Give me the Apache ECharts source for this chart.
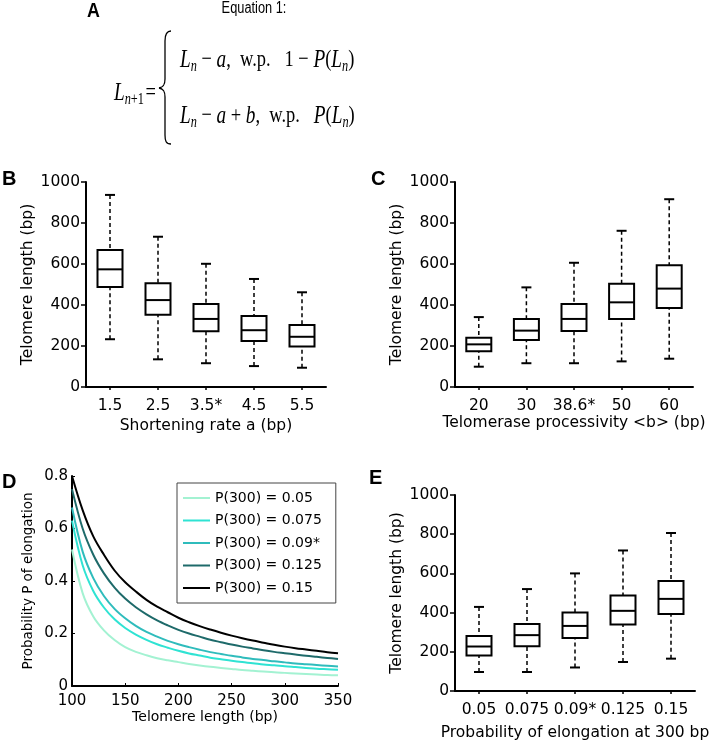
<!DOCTYPE html>
<html>
<head>
<meta charset="utf-8">
<script src="https://cdn.jsdelivr.net/npm/echarts@6/dist/echarts.min.js"></script>
<style>
  html, body { margin: 0; padding: 0; background: #fff; }
  #chart { width: 712px; height: 746px; }
</style>
</head>
<body>
<div id="chart"></div>
<script>
// B: shortening rate a (bp) -> [min, Q1, median, Q3, max]
const shorteningRates = ['1.5', '2.5', '3.5*', '4.5', '5.5']
const shorteningBoxes = [
  [233, 488, 574, 668, 937],
  [135, 353, 424, 506, 733],
  [116, 272, 332, 405, 601],
  [102, 224, 277, 346, 527],
  [94, 197, 245, 302, 462]
]

// C: telomerase processivity <b> (bp)
const processivity = ['20', '30', '38.6*', '50', '60']
const processivityBoxes = [
  [99, 174, 208, 240, 341],
  [116, 229, 275, 332, 486],
  [116, 273, 332, 405, 606],
  [125, 332, 413, 504, 762],
  [138, 385, 480, 594, 916]
]

// E: probability of elongation at 300 bp
const elongProb = ['0.05', '0.075', '0.09*', '0.125', '0.15']
const elongBoxes = [
  [97, 181, 227, 280, 429],
  [97, 228, 285, 342, 520],
  [120, 271, 332, 401, 600],
  [148, 339, 409, 487, 717],
  [165, 393, 470, 561, 806]
]

// D: probability P of elongation vs telomere length (every 10 bp)
const telomereLengths = [100, 110, 120, 130, 140, 150, 160, 170, 180, 190, 200, 210, 220, 230, 240, 250, 260, 270, 280, 290, 300, 310, 320, 330, 340, 350]
const p005 = [0.52, 0.354, 0.265, 0.212, 0.175, 0.148, 0.130, 0.117, 0.106, 0.098, 0.091, 0.084, 0.078, 0.073, 0.069, 0.065, 0.061, 0.058, 0.055, 0.052, 0.050, 0.048, 0.046, 0.044, 0.042, 0.041]
const p0075 = [0.63, 0.460, 0.362, 0.299, 0.254, 0.221, 0.196, 0.176, 0.159, 0.146, 0.134, 0.124, 0.116, 0.108, 0.102, 0.096, 0.091, 0.087, 0.082, 0.079, 0.075, 0.072, 0.069, 0.066, 0.064, 0.062]
const p009 = [0.68, 0.512, 0.411, 0.343, 0.294, 0.258, 0.229, 0.206, 0.188, 0.172, 0.159, 0.148, 0.138, 0.129, 0.122, 0.115, 0.109, 0.103, 0.099, 0.094, 0.090, 0.086, 0.083, 0.080, 0.077, 0.074]
const p0125 = [0.75, 0.600, 0.500, 0.429, 0.375, 0.333, 0.300, 0.273, 0.250, 0.231, 0.214, 0.200, 0.188, 0.176, 0.167, 0.158, 0.150, 0.143, 0.136, 0.130, 0.125, 0.120, 0.115, 0.111, 0.107, 0.103]
const p015 = [0.80, 0.670, 0.570, 0.500, 0.440, 0.395, 0.360, 0.328, 0.302, 0.281, 0.260, 0.243, 0.228, 0.215, 0.203, 0.192, 0.182, 0.173, 0.165, 0.157, 0.150, 0.144, 0.139, 0.134, 0.129, 0.125]

const curveNames = ['P(300) = 0.05', 'P(300) = 0.075', 'P(300) = 0.09*', 'P(300) = 0.125', 'P(300) = 0.15']
const curveColors = ['#a3f2d2', '#2fe3d3', '#2fbcbc', '#1e6a6a', '#000000']

const SANS = 'DejaVu Sans'
const SERIF = 'Liberation Serif'

const chart = echarts.init(document.getElementById('chart'))

// 箱线图：实线箱体，虚线须
const renderBox = (params, api) => {
  const idx = api.value(0)
  const pMin = api.coord([idx, api.value(1)])
  const pQ1 = api.coord([idx, api.value(2)])
  const pMed = api.coord([idx, api.value(3)])
  const pQ3 = api.coord([idx, api.value(4)])
  const pMax = api.coord([idx, api.value(5)])
  const cx = pMin[0]
  const bw = 25
  const cw = 10
  const dashed = { stroke: '#000', lineWidth: 1.5, lineDash: [4, 3], fill: null }
  const solid = { stroke: '#000', lineWidth: 2, fill: null }
  return {
    type: 'group',
    children: [
      { type: 'line', shape: { x1: cx, y1: pMax[1], x2: cx, y2: pQ3[1] }, style: dashed },
      { type: 'line', shape: { x1: cx, y1: pMin[1], x2: cx, y2: pQ1[1] }, style: dashed },
      { type: 'line', shape: { x1: cx - cw / 2, y1: pMax[1], x2: cx + cw / 2, y2: pMax[1] }, style: solid },
      { type: 'line', shape: { x1: cx - cw / 2, y1: pMin[1], x2: cx + cw / 2, y2: pMin[1] }, style: solid },
      {
        type: 'rect',
        shape: { x: cx - bw / 2, y: pQ3[1], width: bw, height: pQ1[1] - pQ3[1] },
        style: { stroke: '#000', lineWidth: 2, fill: '#fff' }
      },
      { type: 'line', shape: { x1: cx - bw / 2, y1: pMed[1], x2: cx + bw / 2, y2: pMed[1] }, style: solid }
    ]
  }
}

const axisLine = { show: true, lineStyle: { color: '#000', width: 2 } }
const labelStyle = { color: '#000', fontFamily: SANS, fontSize: 15.5 }

const boxXAxis = (gridIndex, cats, name, nameGap) => ({
  type: 'category',
  gridIndex,
  data: cats,
  axisLine,
  axisTick: { show: true, alignWithLabel: true, length: 3, lineStyle: { color: '#000', width: 1.5 } },
  axisLabel: { ...labelStyle, margin: 11, interval: 0 },
  splitLine: { show: false },
  name,
  nameLocation: 'middle',
  nameGap,
  nameTextStyle: { ...labelStyle }
})

const boxYAxis = (gridIndex) => ({
  type: 'value',
  gridIndex,
  min: 0,
  max: 1000,
  interval: 200,
  axisLine,
  axisTick: { show: true, length: 5, lineStyle: { color: '#000', width: 1.5 } },
  axisLabel: { ...labelStyle, margin: 6, formatter: (v) => String(v) },
  splitLine: { show: false },
  name: 'Telomere length (bp)',
  nameLocation: 'middle',
  nameGap: 50,
  nameTextStyle: { ...labelStyle }
})

const boxSeries = (idx, boxes) => ({
  type: 'custom',
  xAxisIndex: idx,
  yAxisIndex: idx,
  renderItem: renderBox,
  encode: { x: 0, y: [1, 2, 3, 4, 5] },
  data: boxes.map((b, i) => [i, ...b]),
  silent: true
})

const curves = [p005, p0075, p009, p0125, p015]

const eqRich = {
  it: { fontFamily: SERIF, fontStyle: 'italic', fontSize: 25, fill: '#000' },
  sub: { fontFamily: SERIF, fontStyle: 'italic', fontSize: 16, padding: [14, 0, 0, 0], fill: '#000' },
  rsub: { fontFamily: SERIF, fontSize: 16, padding: [14, 0, 0, 0], fill: '#000' },
  rm: { fontFamily: SERIF, fontSize: 24, fill: '#000' },
  eq: { fontFamily: SERIF, fontSize: 24, padding: [0, 0, 0, 2], fill: '#000' }
}

const braceStyle = { stroke: '#000', lineWidth: 1.3, fill: null }
const EQ_SCALE = 0.77

const option = {
  animation: false,
  backgroundColor: '#fff',
  grid: [
    { left: 86, top: 182, width: 240, height: 205, outerBoundsMode: 'none' },
    { left: 455, top: 182, width: 238, height: 205, outerBoundsMode: 'none' },
    { left: 72, top: 476, width: 266, height: 210, outerBoundsMode: 'none' },
    { left: 455, top: 495, width: 240, height: 196, outerBoundsMode: 'none' }
  ],
  xAxis: [
    boxXAxis(0, shorteningRates, 'Shortening rate a (bp)', 31),
    boxXAxis(1, processivity, 'Telomerase processivity <b> (bp)', 27),
    {
      type: 'value',
      gridIndex: 2,
      min: 100,
      max: 350,
      interval: 50,
      axisLine,
      axisTick: { show: true, inside: true, length: 3, lineStyle: { color: '#000', width: 1 } },
      axisLabel: { color: '#000', fontFamily: SANS, fontSize: 15, margin: 8 },
      splitLine: { show: false },
      name: 'Telomere length (bp)',
      nameLocation: 'middle',
      nameGap: 23,
      nameTextStyle: { color: '#000', fontFamily: SANS, fontSize: 14 }
    },
    boxXAxis(3, elongProb, 'Probability of elongation at 300 bp', 34)
  ],
  yAxis: [
    boxYAxis(0),
    boxYAxis(1),
    {
      type: 'value',
      gridIndex: 2,
      min: 0,
      max: 0.8,
      interval: 0.2,
      axisLine,
      axisTick: { show: true, inside: true, length: 3, lineStyle: { color: '#000', width: 1 } },
      axisLabel: { color: '#000', fontFamily: SANS, fontSize: 15, margin: 4 },
      splitLine: { show: false },
      name: 'Probability P of elongation',
      nameLocation: 'middle',
      nameGap: 37,
      nameTextStyle: { color: '#000', fontFamily: SANS, fontSize: 13.5 }
    },
    boxYAxis(3)
  ],
  legend: {
    data: curveNames,
    orient: 'vertical',
    left: 177,
    top: 483,
    padding: [8, 14, 8, 6],
    itemGap: 8.5,
    itemWidth: 27,
    itemHeight: 2,
    icon: 'rect',
    borderColor: '#444',
    borderWidth: 1,
    backgroundColor: '#fff',
    textStyle: { color: '#000', fontFamily: SANS, fontSize: 14, lineHeight: 14 }
  },
  series: [
    boxSeries(0, shorteningBoxes),
    boxSeries(1, processivityBoxes),
    ...curves.map((vals, i) => ({
      name: curveNames[i],
      type: 'line',
      xAxisIndex: 2,
      yAxisIndex: 2,
      data: telomereLengths.map((L, j) => [L, vals[j]]),
      smooth: 0.35,
      symbol: 'none',
      lineStyle: { color: curveColors[i], width: 2 },
      itemStyle: { color: curveColors[i] },
      silent: true
    })),
    boxSeries(3, elongBoxes)
  ],
  graphic: [
    // panel letters
    { type: 'text', x: 87, y: 1, scaleX: 0.85, style: { text: 'A', fontFamily: 'Liberation Sans', fontWeight: 'bold', fontSize: 21, fill: '#000' } },
    { type: 'text', x: 2, y: 169, style: { text: 'B', fontFamily: 'Liberation Sans', fontWeight: 'bold', fontSize: 20, fill: '#000' } },
    { type: 'text', x: 371, y: 169, style: { text: 'C', fontFamily: 'Liberation Sans', fontWeight: 'bold', fontSize: 20, fill: '#000' } },
    { type: 'text', x: 2, y: 472, style: { text: 'D', fontFamily: 'Liberation Sans', fontWeight: 'bold', fontSize: 20, fill: '#000' } },
    { type: 'text', x: 369, y: 468, style: { text: 'E', fontFamily: 'Liberation Sans', fontWeight: 'bold', fontSize: 20, fill: '#000' } },
    // equation
    { type: 'text', x: 254, y: 1, scaleX: 0.8, style: { text: 'Equation 1:', align: 'center', fontFamily: 'Liberation Sans', fontSize: 16, fill: '#000' } },
    {
      type: 'text',
      x: 114,
      y: 93,
      scaleX: EQ_SCALE,
      style: { text: '{it|L}{sub|n}{rsub|+1}{eq|=}', verticalAlign: 'middle', fill: '#000', rich: eqRich }
    },
    { type: 'bezierCurve', shape: { x1: 171, y1: 31, cpx1: 166, cpy1: 31, cpx2: 165, cpy2: 35, x2: 165, y2: 41 }, style: braceStyle },
    { type: 'line', shape: { x1: 165, y1: 41, x2: 165, y2: 79 }, style: braceStyle },
    { type: 'bezierCurve', shape: { x1: 165, y1: 79, cpx1: 165, cpy1: 84, cpx2: 164, cpy2: 87, x2: 159, y2: 88 }, style: braceStyle },
    { type: 'bezierCurve', shape: { x1: 159, y1: 88, cpx1: 164, cpy1: 89, cpx2: 165, cpy2: 92, x2: 165, y2: 97 }, style: braceStyle },
    { type: 'line', shape: { x1: 165, y1: 97, x2: 165, y2: 135 }, style: braceStyle },
    { type: 'bezierCurve', shape: { x1: 165, y1: 135, cpx1: 165, cpy1: 141, cpx2: 166, cpy2: 144, x2: 171, y2: 144 }, style: braceStyle },
    {
      type: 'text',
      x: 180,
      y: 60,
      scaleX: EQ_SCALE,
      style: {
        text: '{it|L}{sub|n}{rm| − }{it|a}{rm|,  w.p.   1 − }{it|P}{rm|(}{it|L}{sub|n}{rm|)}',
        verticalAlign: 'middle',
        fill: '#000',
        rich: eqRich
      }
    },
    {
      type: 'text',
      x: 180,
      y: 116,
      scaleX: EQ_SCALE,
      style: {
        text: '{it|L}{sub|n}{rm| − }{it|a}{rm| + }{it|b}{rm|,  w.p.   }{it|P}{rm|(}{it|L}{sub|n}{rm|)}',
        verticalAlign: 'middle',
        fill: '#000',
        rich: eqRich
      }
    }
  ]
}

chart.setOption(option)
</script>
</body>
</html>
